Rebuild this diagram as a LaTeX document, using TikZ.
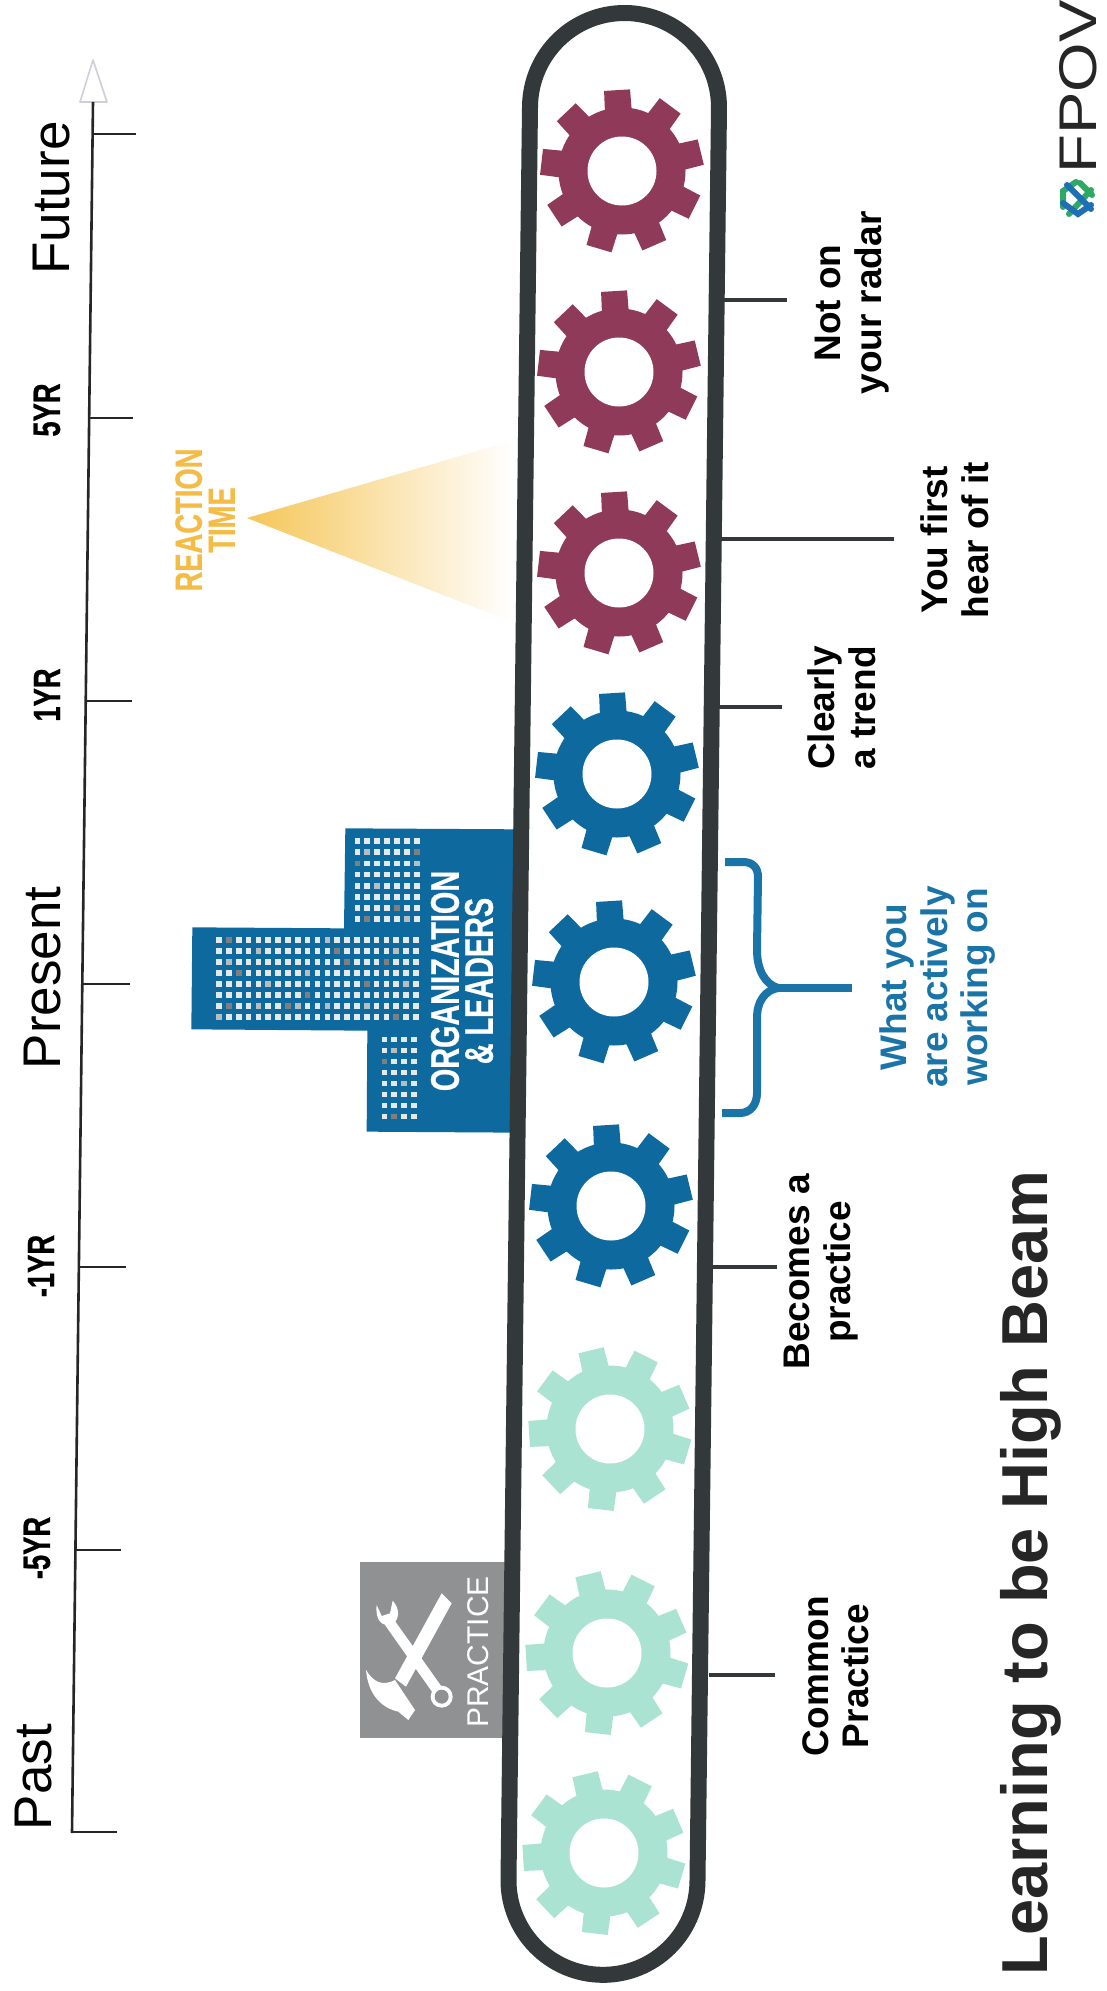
\documentclass[tikz,border=0pt]{standalone}
\usepackage{fontspec}
\setmainfont{Liberation Sans}
\newfontfamily\condf[FakeStretch=0.72,FakeBold=0.6]{Liberation Sans}
\newfontfamily\spacedf[FakeStretch=1.2]{Liberation Sans}
\definecolor{wallc}{HTML}{33393B}
\definecolor{maroonc}{HTML}{8E3A58}
\definecolor{bluec}{HTML}{0E6A9E}
\definecolor{bracec}{HTML}{1A74A8}
\definecolor{tealc}{HTML}{ABE3D2}
\definecolor{goldc}{HTML}{F5BC45}
\definecolor{goldt}{HTML}{F5C658}
\definecolor{goldm}{HTML}{FAE3AC}
\definecolor{boxgrey}{HTML}{8F9193}
\definecolor{winc}{HTML}{E6E9E9}
\definecolor{windark}{HTML}{7F7F80}
\definecolor{wingrey}{HTML}{B7BEC2}
\definecolor{logoblue}{HTML}{1F6FB5}
\definecolor{logogreen}{HTML}{2FA866}
\definecolor{arrowc}{HTML}{CDD0DA}
\newcommand\setfs[2]{\fontsize{#1}{#2}\selectfont}
\newcommand\gearat[5]{%
  \coordinate (#1) at (#2,#3);
  \begin{scope}[shift={(#1)}]
    \fill[#5] (0,0) circle (63.5);
    \foreach \k in {0,...,8}{
      \fill[#5,rotate={#4+40*\k}] (56,-13.5) -- (81,-13) -- (81,13) -- (56,13.5) -- cycle;
    }
    \fill[white] (0,0) circle (34.5);
  \end{scope}}
\tikzset{
  rotlabel/.style={rotate=90,inner sep=0pt,align=center,font=\bfseries\setfs{37}{40.5},text=black},
  timelabel/.style={rotate=90,inner sep=0pt,font=\setfs{53}{53},text=black},
  yrlabel/.style={rotate=90,inner sep=0pt,font=\condf\bfseries\setfs{38}{38},text=black},
  axisline/.style={draw=black!85,line width=2.6pt},
  stub/.style={draw=wallc,line width=4pt},
}
\begin{document}
\begin{tikzpicture}[x=1pt,y=-1pt]
\useasboundingbox (0,0) rectangle (1106,1991);
\fill[white] (0,0) rectangle (1106,1991);

% time axis
\coordinate (axT) at (93,102);
\coordinate (axB) at (72,1833);
\draw[fill=white,draw=arrowc,line width=1.6pt,line join=round] (80,102) -- (93,60) -- (107,102) -- cycle;
\draw[axisline] (axT) -- (axB);
\foreach \n/\ax/\ay/\bx in {a/92.6/134/136,b/89.2/418/133,c/85.7/701/132,d/82.3/984/130,e/78.9/1267/126,f/75.4/1550/121,g/72/1832/117}{
  \coordinate (t\n a) at (\ax,\ay);
  \coordinate (t\n b) at (\bx,\ay);
  \draw[axisline] (t\n a) -- (t\n b);
}
\node[timelabel] (future) at (52,198) {Future};
\node[timelabel] (present) at (43,978) {Present};
\node[timelabel] (past) at (34,1777) {Past};
\node[yrlabel] (y5) at (47,410) {5YR};
\node[yrlabel] (y1) at (47,695) {1YR};
\node[yrlabel] (ym1) at (41,1266) {-1YR};
\node[yrlabel] (ym5) at (37,1548) {-5YR};

% reaction cone
\shade[left color=goldt,middle color=goldm,right color=white] (247,518) -- (512,441) -- (512,622) -- cycle;
\node[rotate=90,inner sep=0pt,align=center,font=\condf\bfseries\setfs{38}{33},text=goldc] (react) at (205,520) {REACTION\\TIME};

% building
\begin{scope}[shift={(160,800)},x=0.33333pt,y=-0.33333pt]
  \fill[bluec] (1080,88) -- (556,85) -- (552,385) -- (97,382) -- (94,688) -- (622,692) -- (620,995) -- (1080,998) -- cycle;
  \foreach \i in {0,...,20}{\foreach \j in {0,...,7}{
    \fill[winc] ({168.5+29.55*\i},{411.5+33*\j}) rectangle +(17,17);}}
  \foreach \i in {0,...,6}{\foreach \j in {0,...,7}{
    \fill[winc] ({583.5+29.7*\i},{114.5+33.5*\j}) rectangle +(17,17);}}
  \foreach \i in {0,...,3}{\foreach \j in {0,...,7}{
    \fill[winc] ({664.5+29.7*\i},{709.5+33*\j}) rectangle +(17,17);}}
  \foreach \i/\j/\c in {1/0/windark,11/0/wingrey,4/1/wingrey,12/1/windark,18/1/wingrey,1/2/wingrey,13/2/windark,17/2/windark,2/3/windark,9/3/wingrey,5/4/wingrey,15/4/windark,19/4/wingrey,9/5/windark,1/6/windark,4/6/wingrey,7/6/windark,8/6/wingrey,11/6/wingrey,15/6/wingrey,0/7/wingrey,18/7/windark}{
    \fill[\c] ({168.5+29.55*\i},{411.5+33*\j}) rectangle +(17,17);}
  \foreach \i/\j/\c in {1/1/wingrey,6/1/windark,0/2/windark,6/2/wingrey,2/4/wingrey,4/6/windark,1/7/windark,5/7/wingrey}{
    \fill[\c] ({583.5+29.7*\i},{114.5+33.5*\j}) rectangle +(17,17);}
  \foreach \i/\j/\c in {1/1/wingrey,0/2/windark,2/4/wingrey,1/7/windark}{
    \fill[\c] ({664.5+29.7*\i},{709.5+33*\j}) rectangle +(17,17);}
\end{scope}
\node[rotate=90,inner sep=0pt,align=center,font=\condf\bfseries\setfs{40}{34},text=white] (org) at (462,981) {ORGANIZATION\\\& LEADERS};

% practice box with tools
\fill[boxgrey] (360,1562) rectangle (512,1738);
\begin{scope}[shift={(340,1530)},x=0.33333pt,y=-0.33333pt]
  % hammer
  \fill[white] (305,190) -- (335,220) -- (198,470) -- (165,445) -- cycle;
  \fill[white] (78,420) .. controls (100,455) and (125,470) .. (165,450)
     -- (225,540) -- (205,570) -- (175,545) .. controls (130,535) and (85,500) .. (78,420) -- cycle;
  % wrench
  \fill[white] (152,255) -- (135,285) -- (283,495) -- (305,470) -- cycle;
  \fill[white] (110,225) .. controls (105,270) and (125,290) .. (155,285)
     .. controls (180,270) and (180,235) .. (158,212) -- (150,250) -- (125,258) -- cycle;
  \fill[white] (305,500) circle (33);
  \fill[boxgrey] (305,500) circle (21);
\end{scope}
\node[rotate=90,inner sep=0pt,font=\setfs{30}{30},text=white] (practice) at (478,1652) {PRACTICE};

% capsule
\begin{scope}[shift={(624.5,107.5)},rotate=-0.695]
  \draw[wallc,fill=white,line width=16pt,rounded corners=94.5pt] (-94.5,-94.5) rectangle (94.5,1867.5);
\end{scope}

% gears
\gearat{g1}{622}{171}{13.5}{maroonc}
\gearat{g2}{619}{372}{13.5}{maroonc}
\gearat{g3}{619}{573}{13.5}{maroonc}
\gearat{g4}{617}{774}{13.5}{bluec}
\gearat{g5}{614}{982}{13.5}{bluec}
\gearat{g6}{611}{1206}{13.5}{bluec}
\gearat{g7}{610}{1429}{23.5}{tealc}
\gearat{g8}{607}{1653}{23.5}{tealc}
\gearat{g9}{604}{1853}{23.5}{tealc}

% stubs
\coordinate (s1a) at (723,300); \coordinate (s1b) at (787,300);
\coordinate (s2a) at (722,539); \coordinate (s2b) at (894,539);
\coordinate (s3a) at (719,707); \coordinate (s3b) at (782,707);
\coordinate (s4a) at (713,1267); \coordinate (s4b) at (777,1267);
\coordinate (s5a) at (709,1675); \coordinate (s5b) at (775,1675);
\draw[stub] (s1a) -- (s1b);
\draw[stub] (s2a) -- (s2b);
\draw[stub] (s3a) -- (s3b);
\draw[stub] (s4a) -- (s4b);
\draw[stub] (s5a) -- (s5b);

% brace
\coordinate (brT) at (725,862);
\coordinate (brB) at (722,1113);
\coordinate (brM) at (778,988);
\coordinate (brE) at (852,988);
\draw[bracec,line width=8pt] (brT) -- (743,862) .. controls (753,862) and (758,868) .. (758,877) -- (757,950) .. controls (757,970) and (765,984) .. (brM);
\draw[bracec,line width=8pt] (brB) -- (740,1113) .. controls (750,1113) and (757,1105) .. (757,1093) -- (757,1017) .. controls (757,1002) and (765,990) .. (brM);
\draw[bracec,line width=8pt] (brM) -- (brE);

% labels
\node[rotlabel] (l1) at (852,303) {Not on\\your radar};
\node[rotlabel] (l2) at (955,540) {You first\\hear of it};
\node[rotlabel] (l3) at (842,708) {Clearly\\a trend};
\node[rotlabel,text=bracec] (l4) at (938,987) {What you\\are actively\\working on};
\node[rotlabel] (l5) at (821,1272) {Becomes a\\practice};
\node[rotlabel] (l6) at (836,1676) {Common\\Practice};
\node[rotate=90,inner sep=0pt,font=\bfseries\setfs{65}{65},text=black!85] (title) at (1031,1573) {Learning to be High Beam};

% logo
\node[rotate=90,inner sep=0pt,anchor=center,font=\spacedf\setfs{53}{53},text=black!85] (fpov) at (1078,87) {FPOV};
\begin{scope}[line width=6pt,line cap=round]
  \draw[logogreen] (1063,207) -- (1063,191) -- (1076,182);
  \draw[logogreen] (1091,190) -- (1069,214);
  \draw[logoblue] (1067,185) -- (1091,209);
  \draw[logoblue] (1063,203) -- (1078,214) -- (1091,205);
  \draw[logogreen] (1080,183) -- (1092,195);
\end{scope}
\end{tikzpicture}
\end{document}
